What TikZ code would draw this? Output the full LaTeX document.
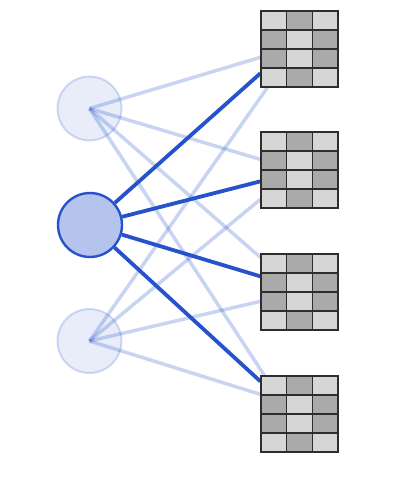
\documentclass[tikz,border=0pt]{standalone}
\usetikzlibrary{backgrounds}
\definecolor{nblue}{RGB}{38,82,204}
\definecolor{nfill}{RGB}{180,196,236}
\definecolor{clight}{RGB}{214,214,214}
\definecolor{cdark}{RGB}{170,170,170}
\definecolor{cedge}{RGB}{45,45,45}
\begin{document}
\begin{tikzpicture}[x=1pt,y=-1pt,
  neuron/.style={circle,inner sep=0pt,minimum size=64pt,draw=nblue,line width=2.4pt,fill=nfill},
  ghost/.style={circle,inner sep=0pt,minimum size=64pt,draw=nblue,draw opacity=0.2,fill=nblue,fill opacity=0.1,line width=2pt},
  gridbox/.style={rectangle,inner sep=0pt,minimum width=77pt,minimum height=76pt,draw=cedge,line width=1.3pt},
  faint/.style={nblue,opacity=0.25,line width=3.5pt},
  strong/.style={nblue,line width=3.8pt}]
\useasboundingbox (0,0) rectangle (404,478);
% neurons
\node[ghost] (c1) at (89.5,108.5) {};
\node[neuron] (c2) at (90,225) {};
\node[ghost] (c3) at (89.5,341) {};
% grids
\foreach \i/\t in {1/11,2/132,3/254,4/376}{
  \node[gridbox] (g\i) at (299.5,\t+38) {};
  \foreach \r in {0,1,2,3}{
    \foreach \c in {0,1,2}{
      \pgfmathtruncatemacro{\dk}{ (\r==1 || \r==2) ? (\c==1 ? 0 : 1) : (\c==1 ? 1 : 0) }
      \ifnum\dk=1 \def\cc{cdark}\else\def\cc{clight}\fi
      \fill[\cc,draw=cedge,line width=1.3pt] (261+\c*77/3,\t+\r*19) rectangle ++(77/3,19);
    }
  }
  \node[gridbox] at (g\i) {};
}
% endpoints on the grids
\path (g1.north west) ++(0,47) coordinate (a1);
\path (g2.north west) ++(0,28) coordinate (a2);
\path (g3.north west) ++(0,4) coordinate (a3);
\path (g4.north west) ++(4,0) coordinate (a4);
\path (g1.north west) ++(0,63) coordinate (b1);
\path (g2.north west) ++(0,50) coordinate (b2);
\path (g3.north west) ++(0,23) coordinate (b3);
\path (g4.north west) ++(0,6) coordinate (b4);
\path (g1.south west) ++(7,0) coordinate (d1);
\path (g2.north west) ++(0,68) coordinate (d2);
\path (g3.north west) ++(0,48) coordinate (d3);
\path (g4.north west) ++(0,19) coordinate (d4);
\begin{scope}[on background layer]
  \foreach \e in {a1,a2,a3,a4}{ \draw[faint] (c1.center) -- (\e); }
  \foreach \e in {d1,d2,d3,d4}{ \draw[faint] (c3.center) -- (\e); }
  \foreach \e in {b1,b2,b3,b4}{ \draw[strong] (c2) -- (\e); }
\end{scope}
\end{tikzpicture}
\end{document}
